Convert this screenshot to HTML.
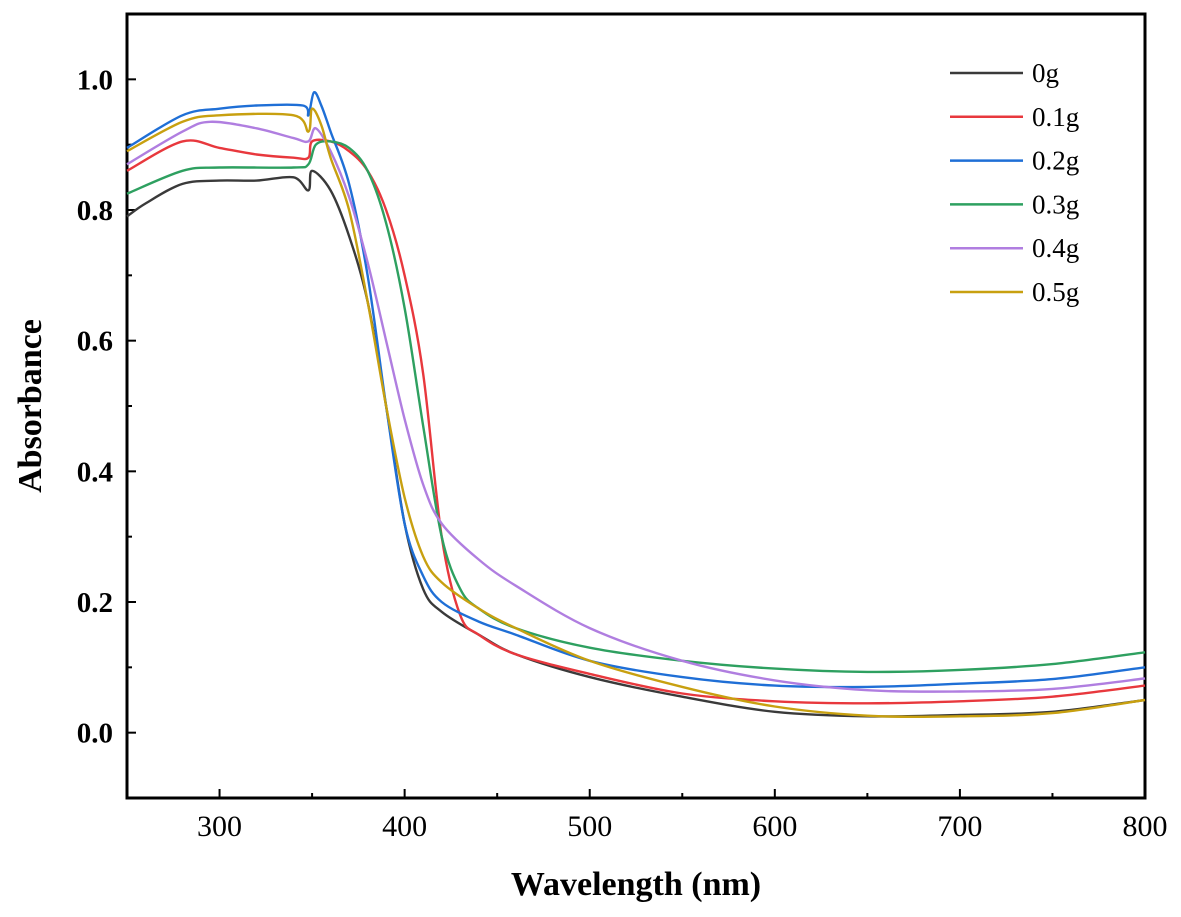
<!DOCTYPE html>
<html><head><meta charset="utf-8"><style>
body{margin:0;background:#fff}
svg{display:block;font-family:"Liberation Serif",serif}
</style></head><body>
<svg id="chart" width="1181" height="917">
<g id="grid"></g>
<g id="series"></g>
<g id="legend"></g>
</svg>
<script>
const wl0=[250,260,280,300,320,340,348,350,360,370,380,390,400,410,420,440,460,500,550,600,650,700,750,800];
const s0=[.79,.81,.84,.845,.845,.85,.83,.86,.83,.76,.66,.50,.32,.22,.185,.15,.12,.085,.055,.032,.025,.027,.032,.05];
const wl1=[250,280,300,320,340,348,350,360,370,380,390,400,410,420,430,440,460,500,550,600,650,700,750,800];
const s1=[.86,.905,.895,.885,.88,.88,.905,.905,.89,.86,.80,.70,.55,.30,.18,.15,.12,.09,.06,.048,.045,.048,.055,.072];
const wl2=[250,280,300,320,345,348,351,355,360,370,380,390,400,410,420,440,460,500,550,600,650,700,750,800];
const s2=[.895,.945,.955,.96,.96,.945,.98,.96,.92,.84,.70,.50,.32,.24,.20,.17,.15,.11,.085,.072,.07,.075,.082,.10];
const wl3=[250,280,300,340,348,352,360,370,380,390,400,410,420,430,440,460,500,550,600,650,700,750,800];
const s3=[.825,.86,.865,.865,.87,.90,.905,.895,.86,.78,.65,.47,.30,.22,.19,.16,.13,.11,.098,.093,.096,.105,.123];
const wl4=[250,280,295,320,340,348,352,360,370,380,390,400,410,420,440,460,500,550,600,650,700,750,800];
const s4=[.87,.92,.935,.925,.91,.905,.925,.89,.82,.72,.60,.48,.38,.32,.265,.225,.16,.11,.08,.065,.063,.067,.083];
const wl5=[250,280,300,340,348,350,355,360,370,380,390,400,410,420,440,460,500,550,600,650,700,750,800];
const s5=[.89,.935,.945,.945,.92,.955,.93,.88,.80,.66,.50,.36,.27,.23,.19,.16,.11,.07,.04,.026,.025,.03,.05];
const names=["0g","0.1g","0.2g","0.3g","0.4g","0.5g"];
const colors=["#3a3a3a","#e8383d","#1f6fd6","#2ea060","#b07ee0","#c8a010"];
const xTicks=[300,400,500,600,700,800];
const yTicks=["0.0","0.2","0.4","0.6","0.8","1.0"];

const L=127,R=1145,T=14,B=798;
const x=v=>L+(v-250)/550*(R-L);
const y=v=>B-(v+0.1)/1.2*(B-T);
const NS="http://www.w3.org/2000/svg";
function mk(tag,at,par){const e=document.createElementNS(NS,tag);for(const k in at)e.setAttribute(k,at[k]);par.appendChild(e);return e;}
const g=document.getElementById('grid');
for(let v=250;v<=800;v+=50){const major=v%100===0;
 let t=mk('line',{x1:x(v),x2:x(v),y1:B,y2:B-(major?9:5),stroke:'#000','stroke-width':2},g);
 
 }
xTicks.forEach(v=>{let t=mk('text',{x:x(v),y:B+38,'text-anchor':'middle','font-size':30},g);t.textContent=v;
 
 });
for(let i=-1;i<=11;i++){const v=i/10;const major=i%2===0&&i>=0;
 let t=mk('line',{x1:L,x2:L+(major?9:5),y1:y(v),y2:y(v),stroke:'#000','stroke-width':2},g);
 
 }
yTicks.forEach(s=>{let t=mk('text',{x:L-14,y:y(+s)+10,'text-anchor':'end','font-size':29,'font-weight':'bold'},g);t.textContent=s;
 
 });
let fr=mk('rect',{x:L,y:T,width:R-L,height:B-T,fill:'none',stroke:'#000','stroke-width':3},g);


let xt=mk('text',{x:(L+R)/2,y:895,'text-anchor':'middle','font-size':34,'font-weight':'bold'},g);xt.textContent='Wavelength (nm)';


let yt=mk('text',{x:0,y:0,'text-anchor':'middle','font-size':34,'font-weight':'bold',transform:`translate(41,${(T+B)/2}) rotate(-90)`},g);yt.textContent='Absorbance';



function smooth(P){
 let d='M'+P[0][0].toFixed(1)+','+P[0][1].toFixed(1);
 for(let i=0;i<P.length-1;i++){
  const p0=P[Math.max(0,i-1)],p1=P[i],p2=P[i+1],p3=P[Math.min(P.length-1,i+2)];
  const k=1/6;
  const c1=[p1[0]+(p2[0]-p0[0])*k,p1[1]+(p2[1]-p0[1])*k];
  const c2=[p2[0]-(p3[0]-p1[0])*k,p2[1]-(p3[1]-p1[1])*k];
  d+=`C${c1[0].toFixed(1)},${c1[1].toFixed(1)} ${c2[0].toFixed(1)},${c2[1].toFixed(1)} ${p2[0].toFixed(1)},${p2[1].toFixed(1)}`;
 }
 return d;
}
const W=[wl0,wl1,wl2,wl3,wl4,wl5],S=[s0,s1,s2,s3,s4,s5];
const sg=document.getElementById('series'),lg=document.getElementById('legend');
S.forEach((s,i)=>{
 const P=s.map((v,j)=>[x(W[i][j]),y(v)]);
 let p=mk('path',{d:smooth(P),fill:'none',stroke:colors[i],'stroke-width':2.4,'stroke-linejoin':'round'},sg);
 
 
 const ly=73+i*43.8;
 let ll=mk('line',{x1:950,x2:1023,y1:ly,y2:ly,stroke:colors[i],'stroke-width':2.5},lg);
 
 
 let lt=mk('text',{x:1032,y:ly+9,'font-size':27},lg);lt.textContent=names[i];
 
 
});
</script>
</body></html>
